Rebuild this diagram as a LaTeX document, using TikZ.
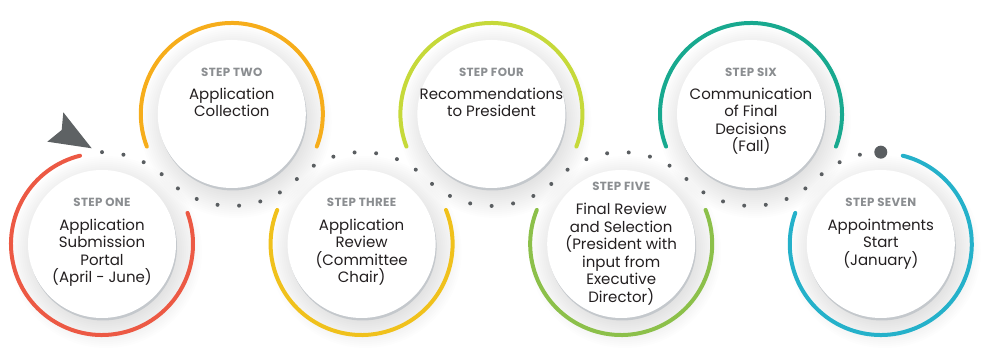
\documentclass[tikz,border=0pt]{standalone}
\usepackage{fontspec}
\setmainfont{Poppins}
\newfontfamily\lblfont{Poppins}[LetterSpace=3]
\usetikzlibrary{calc}
\definecolor{cA}{HTML}{EC5944}
\definecolor{cB}{HTML}{F6AD1B}
\definecolor{cC}{HTML}{F0C11C}
\definecolor{cD}{HTML}{C6D93A}
\definecolor{cE}{HTML}{8CC04A}
\definecolor{cF}{HTML}{18A98F}
\definecolor{cG}{HTML}{25B1CA}
\definecolor{dotgray}{HTML}{5A5E61}
\definecolor{arrowgray}{HTML}{5E6264}
\definecolor{lblgray}{HTML}{8B8E91}
\definecolor{txtdark}{HTML}{231F20}
\definecolor{rimgray}{HTML}{C4C8CC}
\begin{document}
\begin{tikzpicture}[x=1pt,y=1pt,
  ring/.style={line width=4pt, line cap=round},
  disc/.style={circle, fill=white, inner sep=0pt, minimum size=148pt},
  steplabel/.style={font=\lblfont\bfseries\fontsize{11.8}{13}\selectfont, text=lblgray, inner sep=0pt, anchor=base},
  steptext/.style={font=\fontsize{15}{17.5}\selectfont, text=txtdark, align=center, inner sep=0pt, anchor=base},
  dotpath/.style={draw=dotgray, line width=4pt, line cap=round, dash pattern=on 0pt off 21.64pt},
  enddot/.style={circle, fill=dotgray, inner sep=0pt, minimum size=13pt},
]
\useasboundingbox (0,0) rectangle (1002,364);
\foreach \i/\x/\y in {1/102/120, 2/231.8/250, 3/361.6/120, 4/491.4/250, 5/621.2/120, 6/751/250, 7/880.8/120}
  \coordinate (c\i) at (\x,\y);
% soft shadows
\foreach \i in {1,...,7}
  \foreach \k in {0,...,14}
    \fill[black, opacity=0.008] ($(c\i)+(4,-8)$) circle ({68+2*\k});
% coloured rings
\foreach \i/\col/\a/\b in {1/cA/104/380, 2/cB/-21/201, 3/cC/158/382, 4/cD/-21/201, 5/cE/158/382, 6/cF/-21/201, 7/cG/160/436}
  \draw[ring, \col] ($(c\i)+(\a:91)$) arc[start angle=\a, end angle=\b, radius=91];
% discs
\foreach \i in {1,...,7}{
  \fill[rimgray] ($(c\i)+(1,-2.5)$) circle (74);
  \node[disc] (s\i) at (c\i) {};
}
% dotted path
\coordinate (start) at ($(c1)+(90:91.85)$);
\coordinate (endpt) at ($(c7)+(90:91.85)$);
\draw[dotpath] (start)
  arc[start angle=90, end angle=45, radius=91.85]
  arc[start angle=225, end angle=315, radius=91.85]
  arc[start angle=135, end angle=45, radius=91.85]
  arc[start angle=225, end angle=315, radius=91.85]
  arc[start angle=135, end angle=45, radius=91.85]
  arc[start angle=225, end angle=315, radius=91.85]
  arc[start angle=135, end angle=90, radius=91.85];
\node[enddot] (finish) at (endpt) {};
% start arrow
\coordinate (tip) at (91.7,215.7);
\fill[arrowgray] (tip) -- (63.3,251.7) -- (61.7,234) -- (47.3,222.3) -- cycle;
% texts (base = baseline of the last line)
\node[steplabel] (l1) at (102,157.3) {STEP ONE};
\node[steptext] (t1) at (102,81) {Application\\Submission\\Portal\\(April - June)};
\node[steplabel] (l2) at (231.8,287.3) {STEP TWO};
\node[steptext] (t2) at (231.8,247) {Application\\Collection};
\node[steplabel] (l3) at (361.6,157.3) {STEP THREE};
\node[steptext] (t3) at (361.6,81) {Application\\Review\\(Committee\\Chair)};
\node[steplabel] (l4) at (491.4,287.3) {STEP FOUR};
\node[steptext] (t4) at (491.4,247) {Recommendations\\to President};
\node[steplabel] (l5) at (621.2,173.5) {STEP FIVE};
\node[steptext] (t5) at (621.2,61.5) {Final Review\\and Selection\\(President with\\input from\\Executive\\Director)};
\node[steplabel] (l6) at (751,287.3) {STEP SIX};
\node[steptext] (t6) at (751,212) {Communication\\of Final\\Decisions\\(Fall)};
\node[steplabel] (l7) at (880.8,157.3) {STEP SEVEN};
\node[steptext] (t7) at (880.8,98.5) {Appointments\\Start\\(January)};
\end{tikzpicture}
\end{document}
